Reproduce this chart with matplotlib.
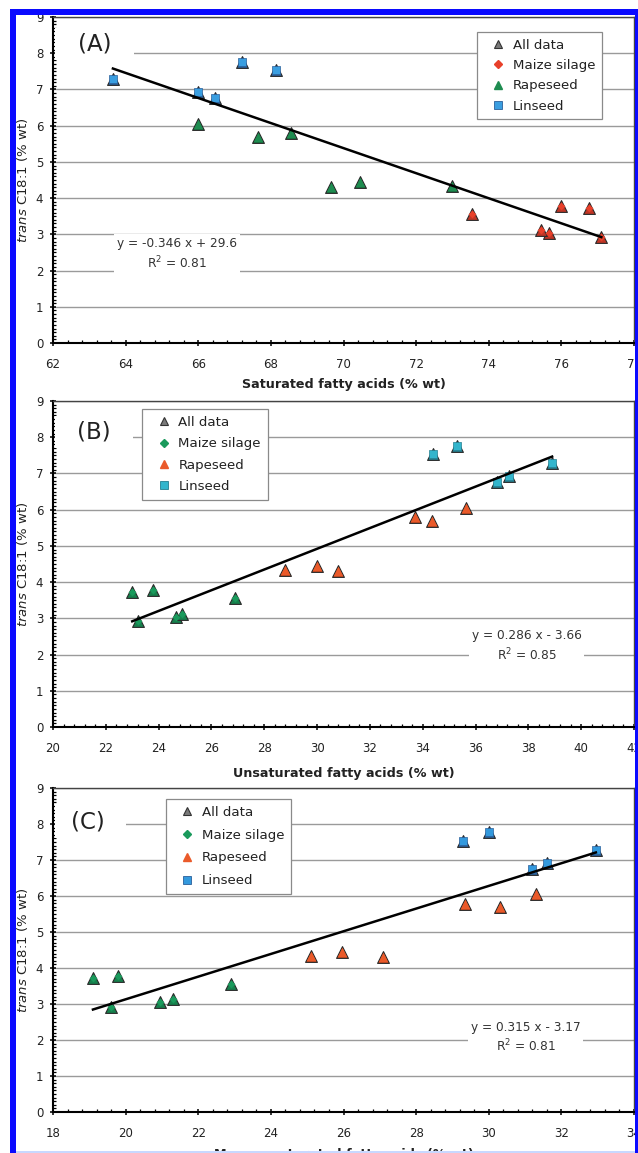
import matplotlib.pyplot as plt
from matplotlib.lines import Line2D
from matplotlib.patches import Rectangle
from matplotlib.ticker import MultipleLocator
import numpy as np

plt.rcParams['font.family'] = ['DejaVu Sans']

# trans C18:1 content (% wt) per diet group
maize_y = [2.93, 3.05, 3.13, 3.56, 3.72, 3.79]
rape_y = [6.05, 5.70, 5.79, 4.31, 4.45, 4.34]
lin_y = [7.28, 6.92, 6.76, 7.77, 7.54]

# saturated fatty acids (% wt)
maize_sat = [77.1, 75.65, 75.45, 73.55, 76.75, 76.0]
rape_sat = [66.0, 67.65, 68.55, 69.65, 70.45, 73.0]
lin_sat = [63.65, 66.0, 66.45, 67.2, 68.15]

# unsaturated fatty acids (% wt)
maize_unsat = [23.2, 24.65, 24.9, 26.9, 23.0, 23.8]
rape_unsat = [35.65, 34.35, 33.7, 30.8, 30.0, 28.8]
lin_unsat = [38.9, 37.25, 36.8, 35.3, 34.4]

# monounsaturated fatty acids (% wt)
maize_mono = [19.6, 20.95, 21.3, 22.9, 19.1, 19.8]
rape_mono = [31.3, 30.3, 29.35, 27.1, 25.95, 25.1]
lin_mono = [32.95, 31.6, 31.2, 30.0, 29.3]

# linear fits (slope, intercept, r2)
fit_sat = (-0.346, 29.6, 0.81)
fit_unsat = (0.286, -3.66, 0.85)
fit_mono = (0.315, -3.17, 0.81)

legend_labels = ['All data', 'Maize silage', 'Rapeseed', 'Linseed']

W, H = 638, 1153
fig = plt.figure(figsize=(W / 100, H / 100), dpi=100)


def add_ax(left, top, right, bottom):
    return fig.add_axes([left / W, 1 - bottom / H, (right - left) / W, (bottom - top) / H])


panels = [
    dict(box=(53, 17, 634, 343), xlim=(62, 78), tag='(A)', tag_xy=(0.072, 0.917), tag_w=0.136,
         x=(maize_sat, rape_sat, lin_sat), fit=fit_sat,
         xlabel='Saturated fatty acids (% wt)', xlab_y=-0.128,
         eq_xy=(0.213, 0.273), leg_xy=(0.730, 0.954), leg_sp=0.55,
         maize=('#e8402a', '#c03525'), rape=('#1e8c50', '#17703f'), lin=('#3a9ee0', '#2a5f9a')),
    dict(box=(53, 401, 634, 727), xlim=(20, 42), tag='(B)', tag_xy=(0.070, 0.905), tag_w=0.133,
         x=(maize_unsat, rape_unsat, lin_unsat), fit=fit_unsat,
         xlabel='Unsaturated fatty acids (% wt)', xlab_y=-0.142,
         eq_xy=(0.815, 0.248), leg_xy=(0.154, 0.975), leg_sp=0.63,
         maize=('#1a9a5c', '#16804c'), rape=('#ea5a2a', '#c84820'), lin=('#33b5cc', '#257f90')),
    dict(box=(53, 788, 634, 1112), xlim=(18, 34), tag='(C)', tag_xy=(0.060, 0.896), tag_w=0.121,
         x=(maize_mono, rape_mono, lin_mono), fit=fit_mono,
         xlabel='Monounsaturated fatty acids (% wt)', xlab_y=-0.130,
         eq_xy=(0.813, 0.230), leg_xy=(0.194, 0.966), leg_sp=0.74,
         maize=('#1a9a5c', '#16804c'), rape=('#ea5a2a', '#c84820'), lin=('#3399dd', '#2a5f9a')),
]

groups_y = (maize_y, rape_y, lin_y)

for p in panels:
    ax = add_ax(*p['box'])
    ax.set_xlim(*p['xlim'])
    ax.set_ylim(0, 9)

    ax.yaxis.set_major_locator(MultipleLocator(1))
    ax.yaxis.set_minor_locator(MultipleLocator(0.1))
    ax.xaxis.set_major_locator(MultipleLocator(2))
    ax.xaxis.set_minor_locator(MultipleLocator(0.4))
    ax.tick_params(which='major', direction='inout', length=5, width=1.1, labelsize=8.5,
                   colors='black', labelcolor='#222222')
    ax.tick_params(which='minor', direction='in', length=2.5, width=0.9)
    ax.tick_params(axis='x', which='major', pad=8)
    ax.tick_params(axis='y', which='major', pad=4.5)
    ax.yaxis.set_major_formatter(plt.FormatStrFormatter('%d'))
    ax.xaxis.set_major_formatter(plt.FormatStrFormatter('%d'))

    for side in ('left', 'bottom'):
        ax.spines[side].set_linewidth(1.5)
        ax.spines[side].set_color('black')
    for side in ('top', 'right'):
        ax.spines[side].set_linewidth(1.0)
        ax.spines[side].set_color('#444444')

    ax.set_axisbelow(True)
    ax.yaxis.grid(True, which='major', color='#9a9a9a', lw=1.0)
    ax.xaxis.grid(False)

    # group markers: base "All data" triangle under each coloured marker
    cols = (p['maize'], p['rape'], p['lin'])
    for xs, ys, (fc, base) in zip(p['x'], groups_y, cols):
        ax.scatter(xs, ys, marker='^', s=72, c=base, edgecolors='#2a2a2a', linewidths=0.8, zorder=3)
    mx, rx, lx = p['x']
    ax.scatter(mx, maize_y, marker='D', s=16, c=p['maize'][0], linewidths=0, zorder=4)
    ax.scatter(rx, rape_y, marker='^', s=46, c=p['rape'][0], linewidths=0, zorder=4)
    ax.scatter(lx, lin_y, marker='s', s=36, c=p['lin'][0], edgecolors=p['lin'][1],
               linewidths=0.5, zorder=4)

    # trend line over the data range
    slope, icpt, r2 = p['fit']
    allx = np.concatenate([np.asarray(v) for v in p['x']])
    xl = np.array([allx.min(), allx.max()])
    ax.plot(xl, slope * xl + icpt, color='black', lw=1.8, zorder=5)

    sign = '+' if icpt >= 0 else '-'
    eq = 'y = %.3f x %s %.3g\n' % (slope, sign, abs(icpt)) + r'R$^2$' + ' = %.2f' % r2
    ax.text(*p['eq_xy'], eq, transform=ax.transAxes, ha='center', va='center',
            fontsize=8.7, color='#333333', linespacing=1.3, zorder=2,
            bbox=dict(boxstyle='square,pad=0.25', fc='white', ec='none'))

    # panel tag with its white background strip
    ax.add_patch(Rectangle((0.004, p['tag_xy'][1] - 0.05), p['tag_w'], 0.1, transform=ax.transAxes,
                           fc='white', ec='none', zorder=1.5))
    ax.text(*p['tag_xy'], p['tag'], transform=ax.transAxes, ha='center', va='center',
            fontsize=16.5, color='#222222', zorder=2)

    ax.set_xlabel(p['xlabel'], fontsize=9.2, fontweight='bold', color='#222222', va='center')
    ax.xaxis.set_label_coords(0.5, p['xlab_y'])
    ax.set_ylabel(r'$\it{trans}$ C18:1 (% wt)', fontsize=9.5, color='#222222', va='center')
    ax.yaxis.set_label_coords(-0.052, 0.5)

    handles = [
        Line2D([], [], ls='none', marker='^', ms=6, mfc='#7a7a7a', mec='#333333', mew=0.8),
        Line2D([], [], ls='none', marker='D', ms=4.5, mfc=p['maize'][0], mec=p['maize'][0]),
        Line2D([], [], ls='none', marker='^', ms=6, mfc=p['rape'][0], mec=p['rape'][0]),
        Line2D([], [], ls='none', marker='s', ms=5.5, mfc=p['lin'][0], mec=p['lin'][1], mew=0.6),
    ]
    leg = ax.legend(handles, legend_labels, loc='upper left', bbox_to_anchor=p['leg_xy'],
                    borderaxespad=0, fontsize=9.6, fancybox=False, framealpha=1,
                    edgecolor='#8a8a8a', borderpad=0.5, labelspacing=p['leg_sp'],
                    handlelength=2.2, handletextpad=0.0, labelcolor='#222222')
    leg.get_frame().set_linewidth(0.9)
    leg.set_zorder(6)

# blue frame round the figure
blue = '#0a0aff'
frame = [((10, 0), 6, H - 9), ((10, H - 15), W - 10, 6), ((635, 0), 3, H - 9)]
for (x0, y0), w, h in frame:
    fig.add_artist(Rectangle((x0 / W, y0 / H), w / W, h / H, transform=fig.transFigure,
                             fc=blue, ec='none', zorder=10))
fig.add_artist(Rectangle((16 / W, 0), (W - 19) / W, 2 / H, transform=fig.transFigure,
                         fc='#c8d8ff', ec='none', zorder=10))

fig.savefig('out.png', dpi=100)
